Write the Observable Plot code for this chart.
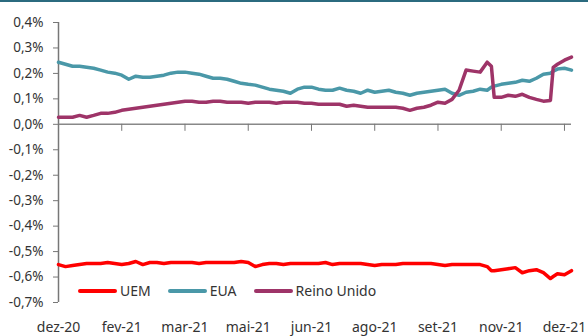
<!DOCTYPE html>
<html>
<head>
<meta charset="utf-8">
<script src="https://cdn.jsdelivr.net/npm/d3@7"></script>
<script src="https://cdn.jsdelivr.net/npm/@observablehq/plot@0.6"></script>
<style>
  html, body { margin: 0; padding: 0; background: #fff; }
  #wrap { position: relative; width: 588px; height: 336px; overflow: hidden; font-family: "Noto Sans", sans-serif; color: #333; }
  #topline { position: absolute; left: 0; top: 0; width: 588px; height: 2px; background: #2b6b7f; }
  #legend { position: absolute; left: 78px; top: 281px; display: flex; align-items: center; font-size: 14px; line-height: 20px; }
  #legend .item { display: flex; align-items: center; margin-right: 17px; }
  #legend .sw { width: 39px; height: 4px; margin-right: 3px; border-radius: 2px; }
</style>
</head>
<body>
<div id="wrap">
  <div id="chart"></div>
  <div id="topline"></div>
  <div id="legend"></div>
</div>
<script>
// Daily observations (sampled), rates in %
const dates = [
  "2020-12-31","2021-01-05","2021-01-10","2021-01-15","2021-01-20","2021-01-25","2021-01-30","2021-02-04","2021-02-09","2021-02-14",
  "2021-02-19","2021-02-24","2021-03-01","2021-03-06","2021-03-11","2021-03-16","2021-03-21","2021-03-26","2021-03-31","2021-04-05",
  "2021-04-10","2021-04-15","2021-04-20","2021-04-25","2021-04-30","2021-05-05","2021-05-10","2021-05-15","2021-05-20","2021-05-25",
  "2021-05-30","2021-06-04","2021-06-09","2021-06-14","2021-06-19","2021-06-24","2021-06-29","2021-07-04","2021-07-09","2021-07-14",
  "2021-07-19","2021-07-24","2021-07-29","2021-08-03","2021-08-08","2021-08-13","2021-08-18","2021-08-23","2021-08-28","2021-09-02",
  "2021-09-07","2021-09-12","2021-09-17","2021-09-22","2021-09-27","2021-10-02","2021-10-07","2021-10-12","2021-10-17","2021-10-22",
  "2021-10-27","2021-11-01","2021-11-04","2021-11-06","2021-11-11","2021-11-16",
  "2021-11-21","2021-11-26","2021-12-01","2021-12-06","2021-12-11","2021-12-16","2021-12-18","2021-12-21","2021-12-26","2021-12-31"
];

const uem = [
  -0.551,-0.559,-0.555,-0.551,-0.547,-0.547,-0.547,-0.543,-0.547,-0.551,
  -0.547,-0.539,-0.551,-0.543,-0.543,-0.547,-0.543,-0.543,-0.543,-0.543,
  -0.547,-0.543,-0.543,-0.543,-0.543,-0.543,-0.539,-0.543,-0.559,-0.551,
  -0.547,-0.547,-0.551,-0.547,-0.547,-0.547,-0.547,-0.547,-0.543,-0.551,
  -0.547,-0.547,-0.547,-0.547,-0.551,-0.555,-0.551,-0.551,-0.551,-0.547,
  -0.547,-0.547,-0.547,-0.547,-0.551,-0.555,-0.551,-0.551,-0.551,-0.551,
  -0.551,-0.559,-0.575,-0.575,-0.571,-0.567,
  -0.563,-0.583,-0.575,-0.571,-0.583,-0.606,-0.598,-0.587,-0.591,-0.575
];

const eua = [
  0.244,0.236,0.228,0.228,0.224,0.220,0.213,0.205,0.201,0.193,
  0.177,0.189,0.185,0.185,0.189,0.193,0.201,0.205,0.205,0.201,
  0.197,0.189,0.181,0.181,0.177,0.169,0.161,0.157,0.154,0.146,
  0.138,0.134,0.130,0.122,0.138,0.146,0.146,0.138,0.134,0.134,
  0.142,0.134,0.130,0.122,0.134,0.126,0.130,0.134,0.126,0.122,
  0.114,0.122,0.126,0.130,0.134,0.138,0.122,0.114,0.126,0.130,
  0.138,0.134,0.146,0.150,0.157,0.161,
  0.165,0.173,0.169,0.181,0.197,0.201,0.209,0.217,0.220,0.213
];

const reinoUnido = [
  0.028,0.028,0.028,0.035,0.028,0.035,0.043,0.043,0.047,0.055,
  0.059,0.063,0.067,0.071,0.075,0.079,0.083,0.087,0.091,0.091,
  0.087,0.087,0.091,0.091,0.087,0.087,0.087,0.083,0.087,0.087,
  0.087,0.083,0.087,0.087,0.087,0.083,0.083,0.079,0.079,0.079,
  0.079,0.071,0.075,0.071,0.067,0.067,0.067,0.067,0.067,0.063,
  0.055,0.063,0.067,0.075,0.087,0.083,0.098,0.134,0.213,0.209,
  0.205,0.244,0.228,0.106,0.106,0.114,
  0.110,0.118,0.106,0.098,0.091,0.094,0.224,0.236,0.252,0.264
];

const seriesNames = ["UEM", "EUA", "Reino Unido"];
const seriesColors = ["#ff0000", "#4a98a8", "#9e3468"];

const tickDates = ["2020-12-31","2021-02-14","2021-03-31","2021-05-15","2021-06-29","2021-08-13","2021-09-27","2021-11-11","2021-12-26"];
const tickLabels = ["dez-20","fev-21","mar-21","mai-21","jun-21","ago-21","set-21","nov-21","dez-21"];
const yTicks = [-0.7,-0.6,-0.5,-0.4,-0.3,-0.2,-0.1,0,0.1,0.2,0.3,0.4];

const parse = d3.utcParse("%Y-%m-%d");
const values = [uem, eua, reinoUnido];
const rows = [];
// draw order: EUA first, then Reino Unido, then UEM
[1, 2, 0].forEach(s => {
  dates.forEach((d, i) => rows.push({date: parse(d), value: values[s][i], serie: seriesNames[s]}));
});

const tickDateObjs = tickDates.map(parse);
const labelByTime = new Map(tickDateObjs.map((d, i) => [+d, tickLabels[i]]));
const fmtPct = v => (Math.abs(v) < 1e-9 ? "0,0" : v.toFixed(1).replace(".", ",")) + "%";

const chart = Plot.plot({
  width: 588,
  height: 336,
  marginLeft: 58,
  marginRight: 17,
  marginTop: 22,
  marginBottom: 34,
  style: {fontFamily: "Noto Sans, sans-serif", fontSize: "13.5px", color: "#333", background: "transparent", overflow: "visible"},
  x: {type: "utc", domain: [parse(dates[0]), parse(dates[dates.length - 1])], label: null},
  y: {domain: [-0.7, 0.4], label: null},
  color: {domain: seriesNames, range: seriesColors},
  marks: [
    Plot.axisY(yTicks, {label: null, tickSize: 5, tickPadding: 10, tickFormat: fmtPct, stroke: "#777", fill: "#333", fontSize: 13.5}),
    Plot.ruleX([parse(dates[0])], {y1: -0.7, y2: 0.4, stroke: "#777", strokeWidth: 1.5}),
    Plot.ruleY([0], {stroke: "#888", strokeWidth: 1.5}),
    Plot.axisX(tickDateObjs, {label: null, y: 0, anchor: "bottom", tickSize: 7, tickFormat: () => "", stroke: "#777"}),
    Plot.axisX(tickDateObjs, {label: null, anchor: "bottom", tickSize: 0, tickPadding: 20, tickFormat: d => labelByTime.get(+d), fill: "#333", fontSize: 14}),
    Plot.line(rows, {x: "date", y: "value", z: "serie", stroke: "serie", strokeWidth: 3.5, strokeLinejoin: "round", strokeLinecap: "round"})
  ]
});
document.getElementById("chart").appendChild(chart);

// legend
const legend = d3.select("#legend");
seriesNames.forEach((name, i) => {
  const item = legend.append("div").attr("class", "item");
  item.append("div").attr("class", "sw").style("background", seriesColors[i]);
  item.append("span").text(name);
});
</script>
</body>
</html>
